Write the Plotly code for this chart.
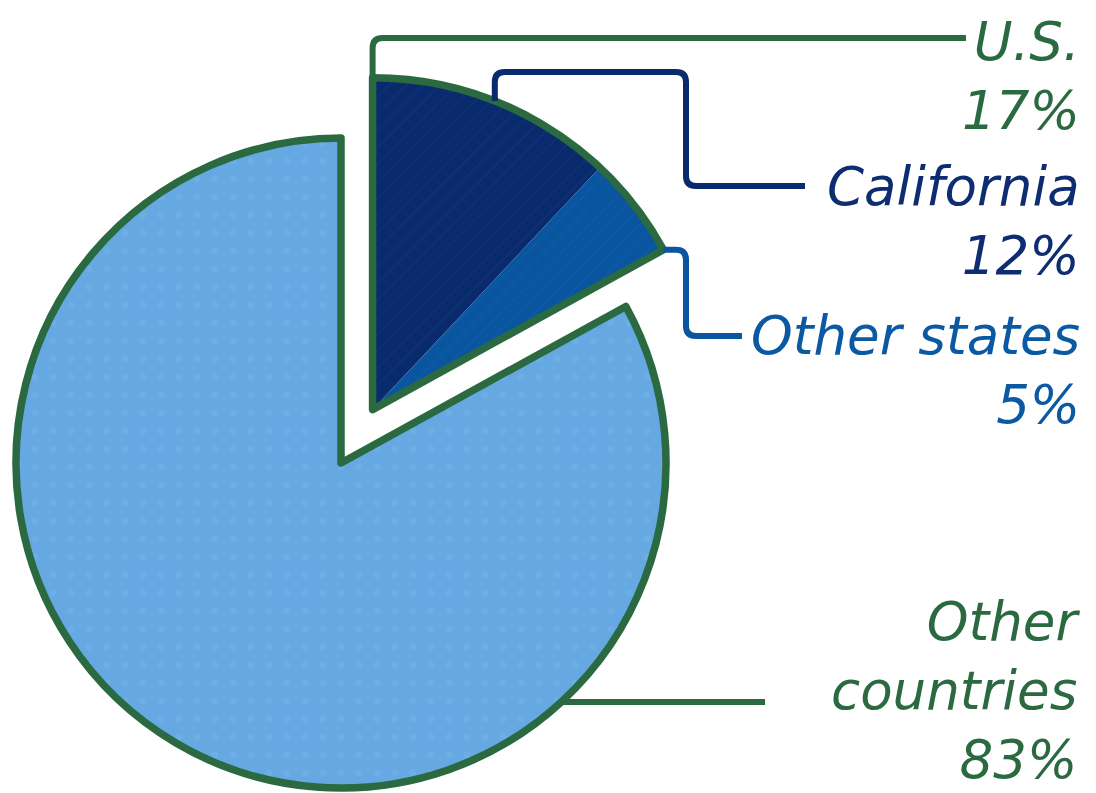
import math
import plotly.graph_objects as go

# ---------------- data ----------------
regions = ["U.S.", "Other countries"]
region_shares = [17, 83]
us_parts = ["California", "Other states"]
us_part_shares = [12, 5]

# ---------------- style / layout ----------------
W, H = 1096, 793          # target picture size
OFF = 8                   # default page body margin
FW, FH = W - OFF, H - OFF  # figure size so that it fills the window
GREEN = "#2b6a40"
LIGHT = "#66a8e1"
NAVY = "#0a2a6e"
MID = "#0a559f"
NAVY_TXT = "#0d2c71"
MID_TXT = "#0b58a3"
FONT = "DejaVu Sans"
FSIZE = 53

main_c = (341.0, 463.0)
main_r = 325.0
us_r = 332.0
pull_px = 62.0

us_share = region_shares[0]
rest_share = sum(region_shares) - us_share
us_mid = math.radians(360 * us_share / 2 / 100)
us_c = (main_c[0] + pull_px * math.sin(us_mid), main_c[1] - pull_px * math.cos(us_mid))


def domain(c, r):
    cx, cy = c[0] - OFF, c[1] - OFF
    return dict(x=[(cx - r) / FW, (cx + r) / FW],
                y=[(FH - cy - r) / FH, (FH - cy + r) / FH])


def on_arc(c, r, pct):
    a = math.radians(360 * pct / 100)
    return (c[0] + r * math.sin(a), c[1] - r * math.cos(a))


fig = go.Figure()

# main pie: Other countries slice (U.S. wedge left empty)
fig.add_trace(go.Pie(
    labels=regions, values=region_shares, sort=False, direction="clockwise",
    rotation=0, textinfo="none", hoverinfo="label+percent", showlegend=False,
    domain=domain(main_c, main_r),
    marker=dict(colors=["rgba(0,0,0,0)", LIGHT],
                line=dict(color=GREEN, width=[0, 7.5]),
                pattern=dict(shape=["", "."], bgcolor=["rgba(0,0,0,0)", LIGHT],
                             fgcolor=["rgba(0,0,0,0)", "#6daee5"], fgopacity=1,
                             size=18, solidity=0.12)),
))

# exploded U.S. wedge split into California / Other states
fig.add_trace(go.Pie(
    labels=us_parts + ["rest"], values=us_part_shares + [rest_share], sort=False,
    direction="clockwise", rotation=0, textinfo="none", hoverinfo="label+percent",
    showlegend=False, domain=domain(us_c, us_r),
    marker=dict(colors=[NAVY, MID, "rgba(0,0,0,0)"],
                line=dict(width=0),
                pattern=dict(shape=["/", "/", ""], bgcolor=[NAVY, MID, "rgba(0,0,0,0)"],
                             fgcolor=["#173676", "#1360a8", "rgba(0,0,0,0)"],
                             fgopacity=1, size=12, solidity=0.08)),
))

# outline of the exploded U.S. wedge
fig.add_trace(go.Pie(
    labels=["U.S. outline", "rest"], values=[us_share, rest_share], sort=False,
    direction="clockwise", rotation=0, textinfo="none", hoverinfo="skip",
    showlegend=False, domain=domain(us_c, us_r),
    marker=dict(colors=["rgba(0,0,0,0)", "rgba(0,0,0,0)"],
                line=dict(color=GREEN, width=[7.5, 0])),
))


def rounded_path(pts, rad=9):
    d = f"M {pts[0][0]:.1f},{pts[0][1]:.1f}"
    for i in range(1, len(pts) - 1):
        p0, p1, p2 = pts[i - 1], pts[i], pts[i + 1]
        v1 = (p0[0] - p1[0], p0[1] - p1[1])
        v2 = (p2[0] - p1[0], p2[1] - p1[1])
        l1 = math.hypot(*v1)
        l2 = math.hypot(*v2)
        r1 = min(rad, l1 / 2)
        r2 = min(rad, l2 / 2)
        a = (p1[0] + v1[0] / l1 * r1, p1[1] + v1[1] / l1 * r1)
        b = (p1[0] + v2[0] / l2 * r2, p1[1] + v2[1] / l2 * r2)
        d += f" L {a[0]:.1f},{a[1]:.1f} Q {p1[0]:.1f},{p1[1]:.1f} {b[0]:.1f},{b[1]:.1f}"
    d += f" L {pts[-1][0]:.1f},{pts[-1][1]:.1f}"
    return d


LW = 6
shapes = []
# U.S. leader
p_us = on_arc(us_c, us_r, 0)
shapes.append(dict(type="path", path=rounded_path([p_us, (p_us[0], 38), (966, 38)], 10),
                   line=dict(color=GREEN, width=LW)))
# California leader (from wedge mid-angle)
p_ca = on_arc(us_c, us_r, us_part_shares[0] / 2)
shapes.append(dict(type="path",
                   path=rounded_path([p_ca, (p_ca[0], 72), (686, 72), (686, 186), (805, 186)], 10),
                   line=dict(color=NAVY, width=LW)))
# Other states leader (from wedge tip)
p_os = on_arc(us_c, us_r, us_share)
shapes.append(dict(type="path",
                   path=rounded_path([p_os, (686, p_os[1]), (686, 336), (742, 336)], 10),
                   line=dict(color=MID, width=LW)))
# Other countries leader
y_oc = 702
x_oc = main_c[0] + math.sqrt(main_r ** 2 - (y_oc - main_c[1]) ** 2)
shapes.append(dict(type="path", path=rounded_path([(x_oc, y_oc), (765, y_oc)]),
                   line=dict(color=GREEN, width=LW)))

label_blocks = [
    (f"{regions[0]}<br>{region_shares[0]}%", 76, GREEN),
    (f"{us_parts[0]}<br>{us_part_shares[0]}%", 221, NAVY_TXT),
    (f"{us_parts[1]}<br>{us_part_shares[1]}%", 370, MID_TXT),
    (f"Other<br>countries<br>{region_shares[1]}%", 690, GREEN),
]
annotations = [
    dict(x=1082, y=y, xref="x", yref="y", text=t, showarrow=False, align="right",
         xanchor="right", yanchor="middle",
         font=dict(family=FONT, size=FSIZE, color=c, style="italic"))
    for t, y, c in label_blocks
]

fig.update_layout(
    width=FW, height=FH, margin=dict(l=0, r=0, t=0, b=0),
    paper_bgcolor="white", plot_bgcolor="rgba(0,0,0,0)",
    xaxis=dict(range=[OFF, W], visible=False, fixedrange=True),
    yaxis=dict(range=[H, OFF], visible=False, fixedrange=True),
    shapes=shapes, annotations=annotations, showlegend=False,
)

fig.write_html("out.html")
